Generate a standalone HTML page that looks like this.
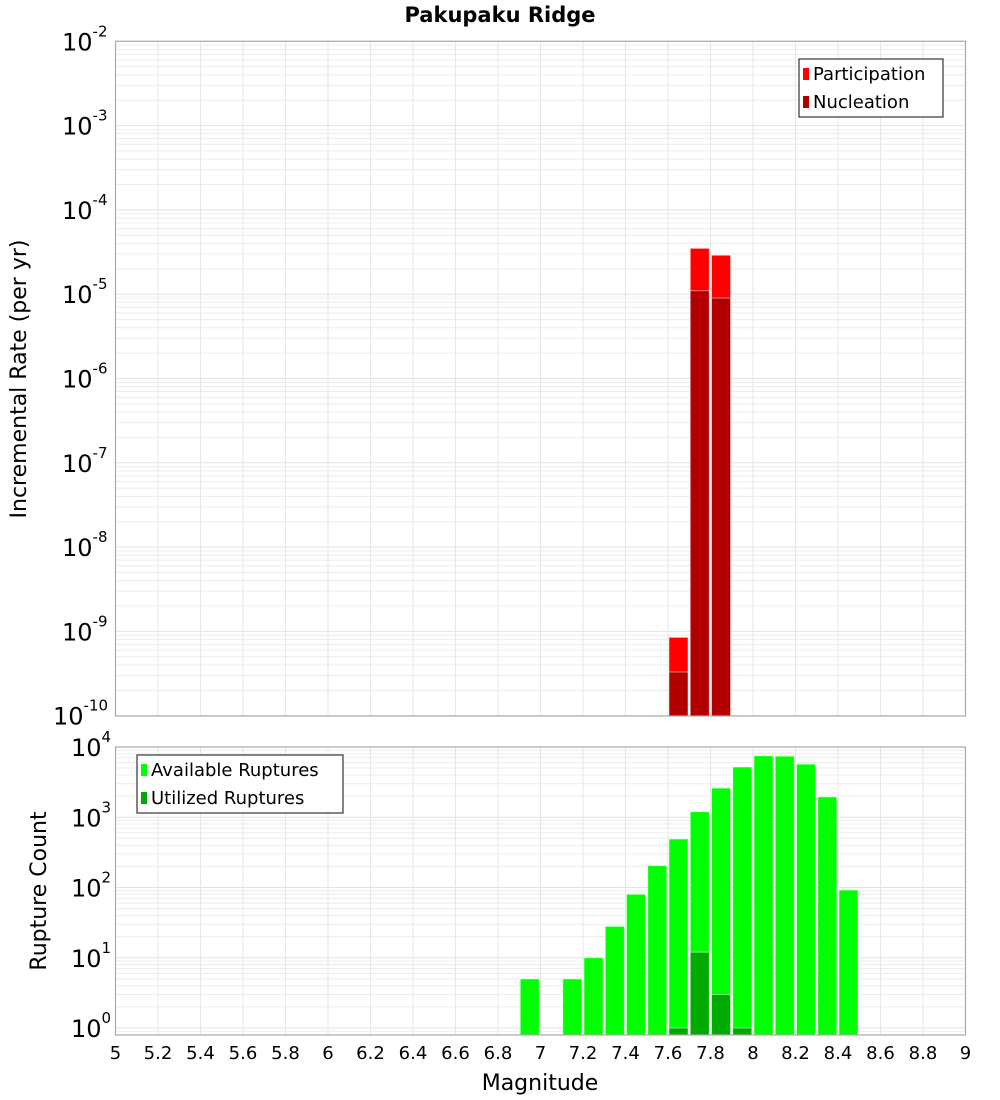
<!DOCTYPE html>
<html><head><meta charset="utf-8"><style>
html,body{margin:0;padding:0;background:#fff;}
svg{display:block;font-family:"DejaVu Sans","Liberation Sans",sans-serif;}
</style></head><body>
<svg id="chart" width="1000" height="1100" viewBox="0 0 1000 1100" xmlns="http://www.w3.org/2000/svg">
<text x="500" y="22" text-anchor="middle" font-size="21" font-weight="bold">Pakupaku Ridge</text>
<g id="topPlot"></g>
<g id="botPlot"></g>
</svg>
<script>
const magBins = [7.65, 7.75, 7.85];
const participationRates = [8.5e-10, 3.5e-5, 2.9e-5];
const nucleationRates = [3.3e-10, 1.1e-5, 9.0e-6];
const countBins = [6.95, 7.15, 7.25, 7.35, 7.45, 7.55, 7.65, 7.75, 7.85, 7.95, 8.05, 8.15, 8.25, 8.35, 8.45];
const availableCounts = [5, 5, 10, 28, 80, 205, 490, 1200, 2600, 5200, 7500, 7400, 5700, 1950, 92];
const utilizedBins = [7.65, 7.75, 7.85, 7.95];
const utilizedCounts = [1, 12, 3, 1];
const xTicks = [5,5.2,5.4,5.6,5.8,6,6.2,6.4,6.6,6.8,7,7.2,7.4,7.6,7.8,8,8.2,8.4,8.6,8.8,9];
const topExps = [-2,-3,-4,-5,-6,-7,-8,-9,-10];
const botExps = [4,3,2,1,0];

const NS="http://www.w3.org/2000/svg";
const L=115.5,R=965.5;
const X=v=>L+(v-5)*(R-L)/4;
const TT=41.3,TB=716,TD=84.3;
const yT=v=>TT+(-2-Math.log10(v))*TD;
const BT=747,BB=1035,B0=1028,BD=70.25;
const yB=v=>B0-Math.log10(v)*BD;
function mk(p,tag,a){const e=document.createElementNS(NS,tag);for(const k in a)e.setAttribute(k,a[k]);p.appendChild(e);return e;}
const gTop=document.getElementById('topPlot'),gBot=document.getElementById('botPlot');

function grid(g,yTop,yBot,yf,lo,hi){
  for(let e=lo;e<hi;e++)for(let m=1;m<10;m++){const y=yf(m*Math.pow(10,e));if(y<yTop||y>yBot)continue;
    const l=mk(g,'line',{x1:L,x2:R,y1:y,y2:y,stroke:m==1?'#e2e2e2':'#ececec','stroke-width':1});
    
    }
  xTicks.forEach(t=>{const l=mk(g,'line',{x1:X(t),x2:X(t),y1:yTop,y2:yBot,stroke:'#e6e6e6','stroke-width':1});
    
    });
}
grid(gTop,TT,TB,yT,-10,-1);
grid(gBot,BT,BB,yB,-1,5);

function bar(g,x,v,yf,base,col,name){const x0=X(x-0.05)+1,w=(R-L)/40-2.2;const y=yf(v);
  const r=mk(g,'rect',{x:x0,y:y,width:w,height:base-y,fill:col,stroke:'rgba(255,255,255,0.5)','stroke-width':1});
  
  }
magBins.forEach((m,i)=>bar(gTop,m,participationRates[i],yT,TB,'#ff0000','participation-bar'));
magBins.forEach((m,i)=>bar(gTop,m,nucleationRates[i],yT,TB,'#b20000','nucleation-bar'));
countBins.forEach((m,i)=>bar(gBot,m,availableCounts[i],yB,BB,'#00ff00','available-bar'));
utilizedBins.forEach((m,i)=>bar(gBot,m,utilizedCounts[i],yB,BB,'#00aa00','utilized-bar'));

const f1=mk(gTop,'rect',{x:L,y:TT,width:R-L,height:TB-TT,fill:'none',stroke:'#aaa','stroke-width':1.2});


const f2=mk(gBot,'rect',{x:L,y:BT,width:R-L,height:BB-BT,fill:'none',stroke:'#aaa','stroke-width':1.2});



function ylab(g,exp,y,name){const s=String(exp);
  const xx=111-s.length*9-2;
  const t=mk(g,'text',{x:xx,y:y+9,'text-anchor':'end','font-size':24});
  
  
  t.textContent='10';
  const sp=mk(t,'tspan',{dy:-14,'font-size':15});
  sp.textContent=s;
  t.setAttribute('text-anchor','start');
  t.setAttribute('x',xx-29);}
topExps.forEach(e=>ylab(gTop,e,yT(Math.pow(10,e)),'top-y-tick-label'));
botExps.forEach(e=>ylab(gBot,e,yB(Math.pow(10,e)),'bottom-y-tick-label'));
xTicks.forEach(t=>{const e=mk(gBot,'text',{x:X(t),y:1059,'text-anchor':'middle','font-size':18});
  
  
  e.textContent=String(t);});

function legend(g,x,y,w,items){const b=mk(g,'rect',{x:x,y:y,width:w,height:58,fill:'#fff',stroke:'#333','stroke-width':1.2});
  
  
  items.forEach((it,i)=>{const yy=y+14+i*28;
    mk(g,'rect',{x:x+4,y:yy-5,width:6,height:12,fill:it[1]});
    const t=mk(g,'text',{x:x+14,y:yy+7,'font-size':18});
    
    
    t.textContent=it[0];});}
legend(gTop,799,59,144,[['Participation','#ff0000'],['Nucleation','#b20000']]);
legend(gBot,137,755,206,[['Available Ruptures','#00ff00'],['Utilized Ruptures','#00aa00']]);

const a1=mk(gTop,'text',{x:0,y:0,'font-size':22,'text-anchor':'middle',transform:'translate(26,379) rotate(-90)'});


a1.textContent='Incremental Rate (per yr)';
const a2=mk(gBot,'text',{x:0,y:0,'font-size':22,'text-anchor':'middle',transform:'translate(46,891) rotate(-90)'});


a2.textContent='Rupture Count';
const a3=mk(gBot,'text',{x:540,y:1090,'font-size':22,'text-anchor':'middle'});


a3.textContent='Magnitude';
</script>
</body></html>
